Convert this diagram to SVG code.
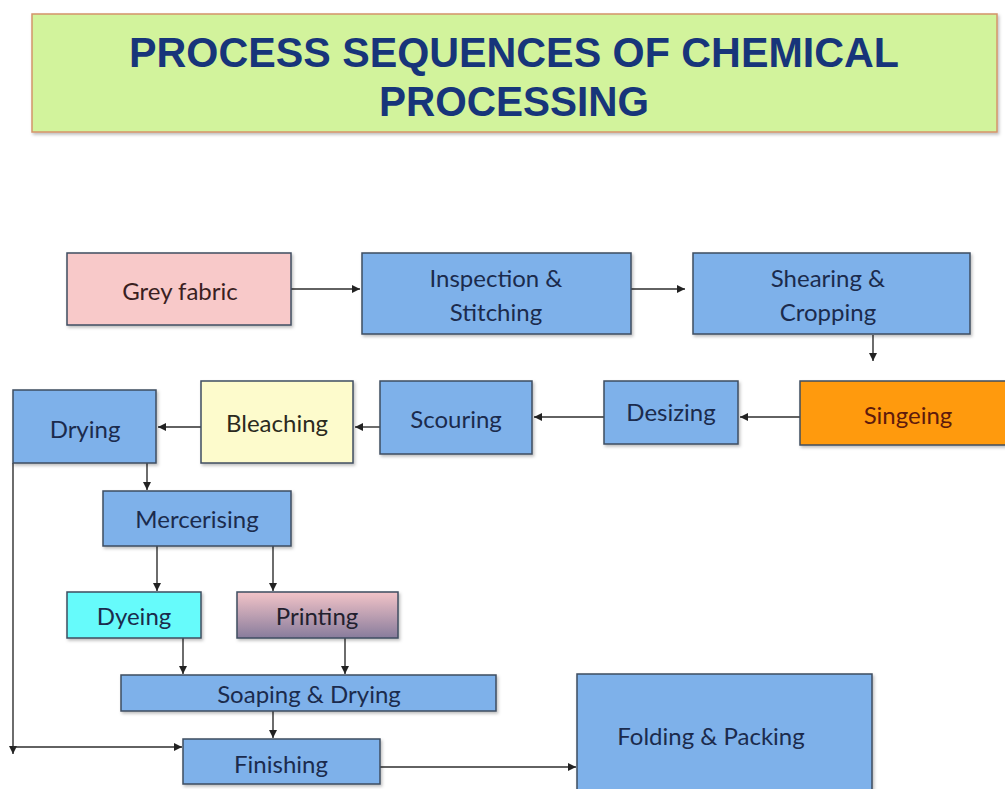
<svg xmlns="http://www.w3.org/2000/svg" width="1005" height="789" viewBox="0 0 1005 789">
<defs>
<style>
.box{stroke:#3f4d60;stroke-width:1.5;filter:url(#sh)}
.blue{fill:#7eb1ea}
.t{font-family:Lato,"Open Sans","Liberation Sans",sans-serif;font-size:24px;fill:#1b2b4d;text-anchor:middle}
.title{font-family:"Liberation Sans",Arial,sans-serif;font-weight:bold;font-size:43px;fill:#17357a;text-anchor:middle}
.c{fill:none;stroke:#2e2e2e;stroke-width:1.4;marker-end:url(#ah)}
</style>
<filter id="sh" x="-10%" y="-10%" width="130%" height="140%">
<feDropShadow dx="1.5" dy="2" stdDeviation="1.5" flood-color="#000" flood-opacity="0.25"/>
</filter>
<linearGradient id="pg" x1="0" y1="0" x2="0" y2="1">
<stop offset="0" stop-color="#f3c4c8"/>
<stop offset="1" stop-color="#887c9c"/>
</linearGradient>
<marker id="ah" markerUnits="userSpaceOnUse" markerWidth="8" markerHeight="8" refX="8" refY="4" orient="auto">
<path d="M0,0 L8,4 L0,8 z" fill="#222"/>
</marker>
</defs>
<rect width="1005" height="789" fill="#ffffff"/>

<g id="title">
<rect x="32" y="14" width="965" height="118" fill="#d2f39c" stroke="#d4946a" stroke-width="1.5" filter="url(#sh)"/>
<text class="title" x="514" y="67" textLength="770" lengthAdjust="spacingAndGlyphs">PROCESS SEQUENCES OF CHEMICAL</text>
<text class="title" x="514" y="116" textLength="270" lengthAdjust="spacingAndGlyphs">PROCESSING</text>
</g>

<g id="connectors">
<path class="c" d="M291,289 H360"/>
<path class="c" d="M631,289 H685"/>
<path class="c" d="M873,335 V361"/>
<path class="c" d="M800,417 H740"/>
<path class="c" d="M604,417 H534"/>
<path class="c" d="M380,427 H355"/>
<path class="c" d="M201,427 H158"/>
<path class="c" d="M147,463 V490"/>
<path class="c" d="M157,546 V591"/>
<path class="c" d="M273,546 V591"/>
<path class="c" d="M183,638 V674"/>
<path class="c" d="M345,638 V674"/>
<path class="c" d="M273,711 V738"/>
<path class="c" d="M13,463 V754"/>
<path class="c" d="M13,747 H182"/>
<path class="c" d="M380,767 H576"/>
</g>

<g id="grey-fabric">
<rect class="box" x="67" y="253" width="224" height="72" fill="#f8c9c9"/>
<text class="t" x="180" y="300" style="fill:#3a1f22">Grey fabric</text>
</g>
<g id="inspection">
<rect class="box blue" x="362" y="253" width="269" height="81"/>
<text class="t" x="496" y="287">Inspection &amp;</text>
<text class="t" x="496" y="321">Stitching</text>
</g>
<g id="shearing">
<rect class="box blue" x="693" y="253" width="277" height="81"/>
<text class="t" x="828" y="287">Shearing &amp;</text>
<text class="t" x="828" y="321">Cropping</text>
</g>
<g id="singeing">
<rect class="box" x="800" y="381" width="210" height="64" fill="#ff9a0a"/>
<text class="t" x="908" y="424" style="fill:#5e1a0c">Singeing</text>
</g>
<g id="desizing">
<rect class="box blue" x="604" y="381" width="134" height="63"/>
<text class="t" x="671" y="421">Desizing</text>
</g>
<g id="scouring">
<rect class="box blue" x="380" y="381" width="152" height="73"/>
<text class="t" x="456" y="428">Scouring</text>
</g>
<g id="bleaching">
<rect class="box" x="201" y="381" width="152" height="82" fill="#fdfbcc"/>
<text class="t" x="277" y="432" style="fill:#2b2a1e">Bleaching</text>
</g>
<g id="drying">
<rect class="box blue" x="13" y="390" width="143" height="73"/>
<text class="t" x="85" y="438">Drying</text>
</g>
<g id="mercerising">
<rect class="box blue" x="103" y="491" width="188" height="55"/>
<text class="t" x="197" y="528">Mercerising</text>
</g>
<g id="dyeing">
<rect class="box" x="67" y="592" width="134" height="46" fill="#66fbfb"/>
<text class="t" x="134" y="625">Dyeing</text>
</g>
<g id="printing">
<rect class="box" x="237" y="592" width="161" height="46" fill="url(#pg)"/>
<text class="t" x="317" y="625" style="fill:#221f2e">Printing</text>
</g>
<g id="soaping">
<rect class="box blue" x="121" y="675" width="375" height="36"/>
<text class="t" x="309" y="703">Soaping &amp; Drying</text>
</g>
<g id="finishing">
<rect class="box blue" x="183" y="739" width="197" height="45"/>
<text class="t" x="281" y="773">Finishing</text>
</g>
<g id="folding">
<rect class="box blue" x="577" y="674" width="295" height="120"/>
<text class="t" x="711" y="745">Folding &amp; Packing</text>
</g>
</svg>
